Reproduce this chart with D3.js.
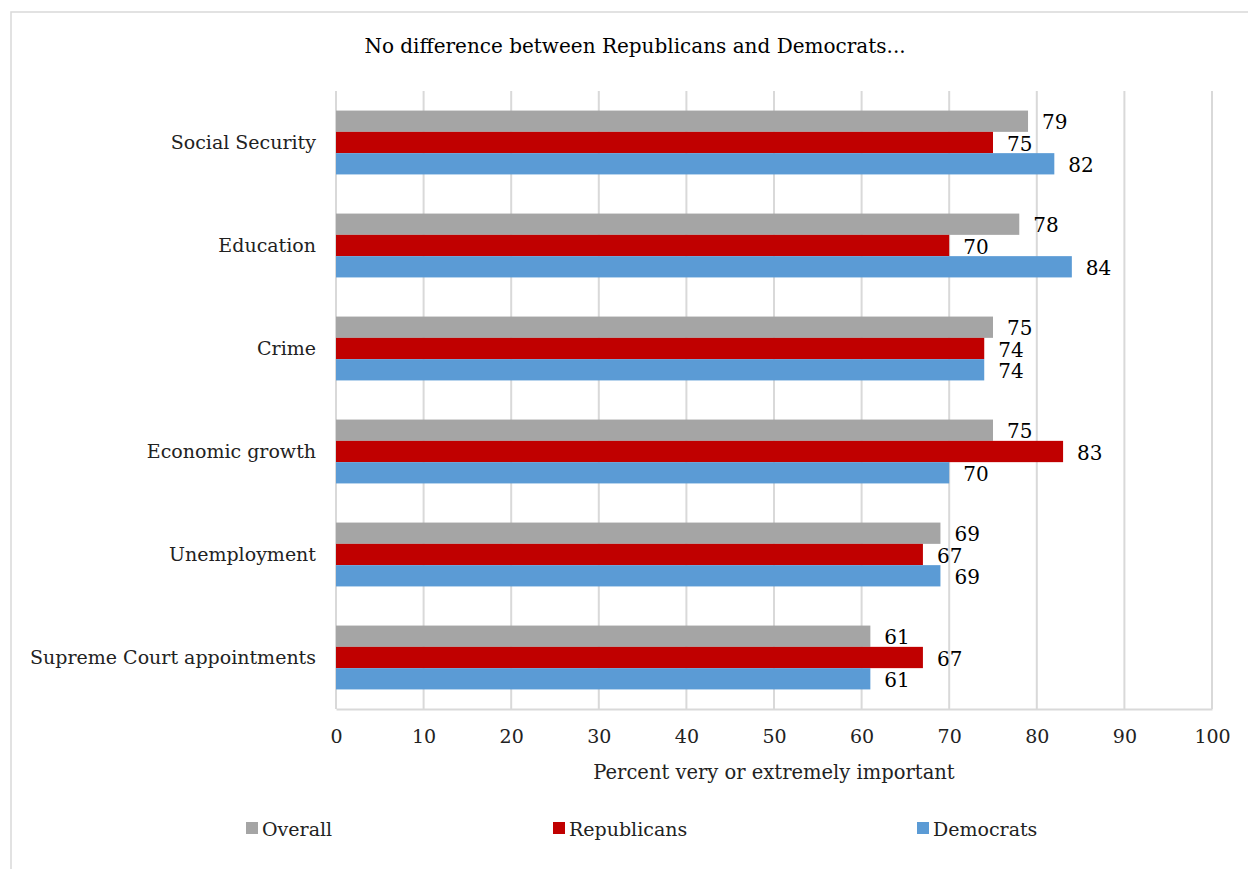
<!DOCTYPE html>
<html lang="en">
<head>
<meta charset="UTF-8">
<title>No difference between Republicans and Democrats</title>
<style>
  body { margin: 0; background: #fff; }
  #canvas { width: 1248px; height: 869px; }
  text { font-family: "DejaVu Serif", serif; fill: #222; }
  .grid line { stroke: #d9d9d9; stroke-width: 2; }
  .value { font-family: "DejaVu Serif", serif; font-size: 20px; fill: #000; }
</style>
<script src="https://cdn.jsdelivr.net/npm/d3@7/dist/d3.min.js"></script>
</head>
<body>
<div id="canvas"></div>
<script>
// data
var categories = ["Social Security", "Education", "Crime", "Economic growth", "Unemployment", "Supreme Court appointments"];
var seriesNames = ["Overall", "Republicans", "Democrats"];
var overall     = [79, 78, 75, 75, 69, 61];
var republicans = [75, 70, 74, 83, 67, 67];
var democrats   = [82, 84, 74, 70, 69, 61];
var xTicks = [0, 10, 20, 30, 40, 50, 60, 70, 80, 90, 100];
var colors = ["#a5a5a5", "#c00000", "#5b9bd5"];

var seriesValues = [overall, republicans, democrats];

// layout
var width = 1248, height = 869;
var plot = {left: 336, right: 1212, top: 91, bottom: 709};

var svg = d3.select("#canvas").append("svg")
    .attr("width", width)
    .attr("height", height);

// outer frame
svg.append("rect")
    .attr("x", 11).attr("y", 12)
    .attr("width", 1260).attr("height", 900)
    .attr("fill", "#fff")
    .attr("stroke", "#d9d9d9")
    .attr("stroke-width", 1.5);

// title
svg.append("text")
    .attr("x", 635).attr("y", 46)
    .attr("text-anchor", "middle")
    .attr("dominant-baseline", "central")
    .style("font-size", "20px")
    .style("fill", "#000")
    .text("No difference between Republicans and Democrats...");

// scales
var x = d3.scaleLinear().domain([0, 100]).range([plot.left, plot.right]);
var y = d3.scaleBand().domain(categories).range([plot.top, plot.bottom]).paddingInner(0.38).paddingOuter(0.19);
var ySub = d3.scaleBand().domain(seriesNames).range([0, y.bandwidth()]);

// gridlines
svg.append("g")
    .attr("class", "grid")
    .selectAll("line")
    .data(xTicks)
    .enter().append("line")
    .attr("x1", function(d) { return x(d); })
    .attr("x2", function(d) { return x(d); })
    .attr("y1", plot.top)
    .attr("y2", plot.bottom);

// x axis
var xAxis = d3.axisBottom(x).tickValues(xTicks).tickSize(0).tickPadding(21);
var gx = svg.append("g")
    .attr("transform", "translate(0," + plot.bottom + ")")
    .call(xAxis);
gx.select(".domain").attr("stroke", "#d9d9d9").attr("stroke-width", 2);
gx.selectAll("text")
    .style("font-family", "DejaVu Serif, serif")
    .style("font-size", "19px")
    .style("fill", "#222");

// y axis (category labels)
var yAxis = d3.axisLeft(y).tickSize(0).tickPadding(20);
var gy = svg.append("g")
    .attr("transform", "translate(" + plot.left + ",0)")
    .call(yAxis);
gy.select(".domain").remove();
gy.selectAll("text")
    .style("font-family", "DejaVu Serif, serif")
    .style("font-size", "19px")
    .style("fill", "#222");

// bars
var rows = [];
categories.forEach(function(c, i) {
  seriesNames.forEach(function(s, j) {
    rows.push({cat: c, series: s, value: seriesValues[j][i], color: colors[j]});
  });
});

svg.append("g").selectAll("rect")
    .data(rows)
    .enter().append("rect")
    .attr("x", x(0))
    .attr("y", function(d) { return y(d.cat) + ySub(d.series); })
    .attr("width", function(d) { return x(d.value) - x(0); })
    .attr("height", ySub.bandwidth())
    .attr("fill", function(d) { return d.color; });

// value labels
svg.append("g").selectAll("text")
    .data(rows)
    .enter().append("text")
    .attr("class", "value")
    .attr("x", function(d) { return x(d.value) + 14; })
    .attr("y", function(d) { return y(d.cat) + ySub(d.series) + ySub.bandwidth() / 2 + 1; })
    .attr("dominant-baseline", "central")
    .text(function(d) { return d.value; });

// axis title
svg.append("text")
    .attr("x", (plot.left + plot.right) / 2)
    .attr("y", 772)
    .attr("text-anchor", "middle")
    .attr("dominant-baseline", "central")
    .style("font-size", "19.5px")
    .text("Percent very or extremely important");

// legend
var legendX = [246, 553, 917];
var legend = svg.append("g").selectAll("g")
    .data(seriesNames)
    .enter().append("g")
    .attr("transform", function(d, i) { return "translate(" + legendX[i] + ",828)"; });
legend.append("rect")
    .attr("x", 0).attr("y", -6)
    .attr("width", 12).attr("height", 12)
    .attr("fill", function(d, i) { return colors[i]; });
legend.append("text")
    .attr("x", 16).attr("y", 1)
    .attr("dominant-baseline", "central")
    .style("font-size", "19px")
    .text(function(d) { return d; });
</script>
</body>
</html>
